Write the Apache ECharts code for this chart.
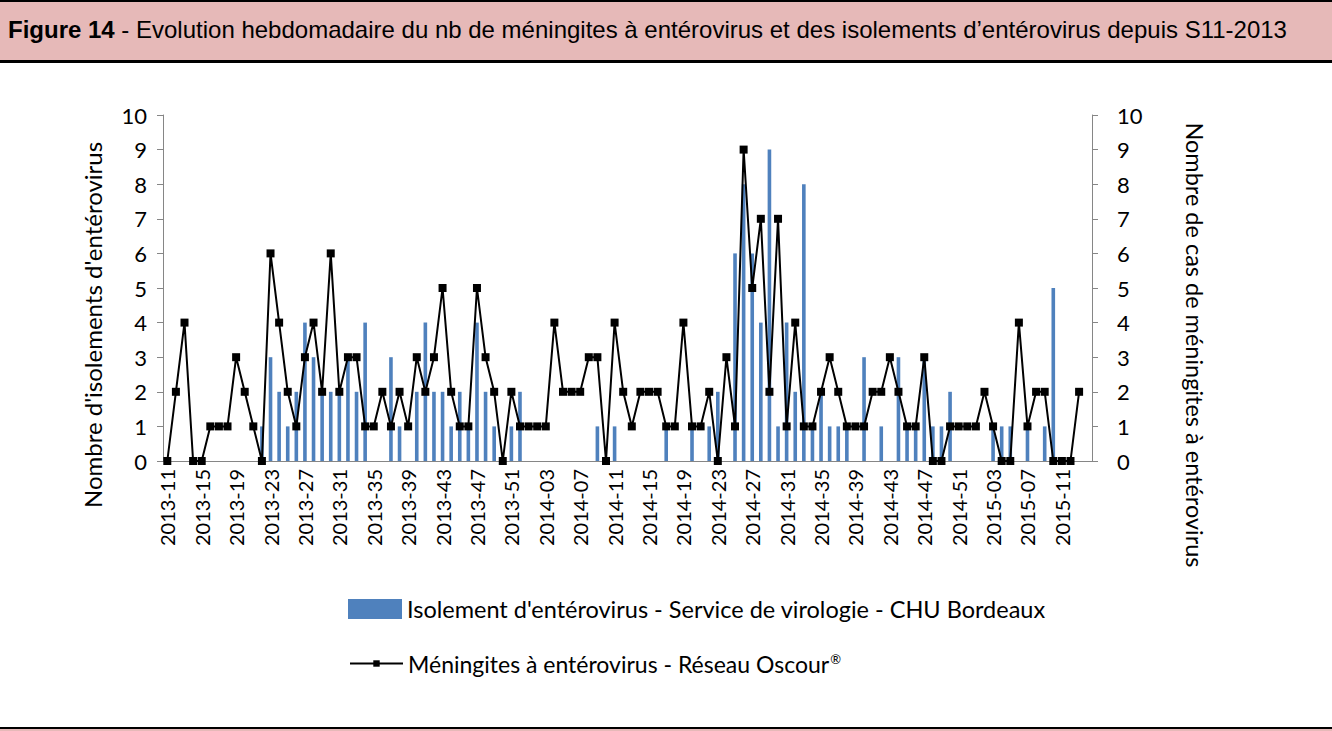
<!DOCTYPE html>
<html><head><meta charset="utf-8">
<script src="https://cdn.jsdelivr.net/npm/echarts@6/dist/echarts.min.js"></script>
<style>html,body{margin:0;padding:0;background:#fff}#chart{width:1332px;height:731px}</style>
</head><body><div id="chart"></div>
<script>
// Weekly categories (ISO year-week)
const weeks = [
 '2013-11','2013-12','2013-13','2013-14','2013-15','2013-16','2013-17','2013-18','2013-19','2013-20',
 '2013-21','2013-22','2013-23','2013-24','2013-25','2013-26','2013-27','2013-28','2013-29','2013-30',
 '2013-31','2013-32','2013-33','2013-34','2013-35','2013-36','2013-37','2013-38','2013-39','2013-40',
 '2013-41','2013-42','2013-43','2013-44','2013-45','2013-46','2013-47','2013-48','2013-49','2013-50',
 '2013-51','2013-52','2014-01','2014-02','2014-03','2014-04','2014-05','2014-06','2014-07','2014-08',
 '2014-09','2014-10','2014-11','2014-12','2014-13','2014-14','2014-15','2014-16','2014-17','2014-18',
 '2014-19','2014-20','2014-21','2014-22','2014-23','2014-24','2014-25','2014-26','2014-27','2014-28',
 '2014-29','2014-30','2014-31','2014-32','2014-33','2014-34','2014-35','2014-36','2014-37','2014-38',
 '2014-39','2014-40','2014-41','2014-42','2014-43','2014-44','2014-45','2014-46','2014-47','2014-48',
 '2014-49','2014-50','2014-51','2014-52','2015-01','2015-02','2015-03','2015-04','2015-05','2015-06',
 '2015-07','2015-08','2015-09','2015-10','2015-11','2015-12','2015-13','2015-14'
];
// Isolements d'entérovirus - CHU Bordeaux (left axis)
const isolements = [
 0,0,0,0,0,0,0,0,0,0,
 0,1,3,2,1,2,4,3,2,2,
 2,3,2,4,0,0,3,1,0,2,
 4,2,2,1,2,1,4,2,1,0,
 1,2,0,0,0,0,0,0,0,0,
 1,0,1,0,0,0,0,0,1,0,
 0,1,0,1,2,0,6,8,6,4,
 9,1,4,2,8,1,2,1,1,1,
 0,3,0,1,0,3,1,1,3,1,
 1,2,0,0,0,0,1,1,1,0,
 1,0,1,5,0,0,0,null
];
// Méningites à entérovirus - Réseau Oscour (right axis)
const meningites = [
 0,2,4,0,0,1,1,1,3,2,
 1,0,6,4,2,1,3,4,2,6,
 2,3,3,1,1,2,1,2,1,3,
 2,3,5,2,1,1,5,3,2,0,
 2,1,1,1,1,4,2,2,2,3,
 3,0,4,2,1,2,2,2,1,1,
 4,1,1,2,0,3,1,9,5,7,
 2,7,1,4,1,1,2,3,2,1,
 1,1,2,2,3,2,1,1,3,0,
 0,1,1,1,1,2,1,0,0,4,
 1,2,2,0,0,0,2,null
];
const seriesNames = [
 "Isolement d'entérovirus - Service de virologie - CHU Bordeaux",
 "Méningites à entérovirus - Réseau Oscour®"
];
const titleText = "{b|Figure 14} - Evolution hebdomadaire du nb de méningites à entérovirus et des isolements d’entérovirus depuis S11-2013";
const leftAxisName = "Nombre d'isolements d'entérovirus";
const rightAxisName = "Nombre de cas de méningites à entérovirus";

const FONT = 'Lato, "Open Sans", sans-serif';
const TFONT = '"Liberation Sans", Arial, sans-serif';
const AXIS = '#868686';
const chart = echarts.init(document.getElementById('chart'), null, {renderer: 'svg'});
chart.setOption({
  animation: false,
  backgroundColor: '#ffffff',
  title: {
    text: titleText, left: 8, top: 17, padding: 0,
    textStyle: {
      fontFamily: TFONT, fontSize: 24, fontWeight: 'normal', color: '#000',
      rich: { b: { fontFamily: TFONT, fontSize: 24, fontWeight: 'bold', color: '#000' } }
    }
  },
  graphic: [
    { type: 'rect', z: -10, shape: { x: 0, y: 0, width: 1332, height: 61 }, style: { fill: '#E6B9B8' } },
    { type: 'rect', z: -9, shape: { x: 0, y: 0, width: 1332, height: 2 }, style: { fill: '#000' } },
    { type: 'rect', z: -9, shape: { x: 0, y: 60, width: 1332, height: 3 }, style: { fill: '#000' } },
    { type: 'rect', z: -9, shape: { x: 0, y: 727, width: 1332, height: 2 }, style: { fill: '#000' } },
    { type: 'rect', z: -9, shape: { x: 0, y: 729, width: 1332, height: 2 }, style: { fill: '#E6B9B8' } },
    { type: 'text', x: 92, y: 325, rotation: Math.PI / 2,
      style: { text: leftAxisName, fontFamily: FONT, fontSize: 24, fill: '#000', align: 'center', verticalAlign: 'middle' } },
    { type: 'text', x: 1195, y: 345, rotation: -Math.PI / 2,
      style: { text: rightAxisName, fontFamily: FONT, fontSize: 23.5, fill: '#000', align: 'center', verticalAlign: 'middle' } }
  ],
  grid: { left: 163, right: 240, top: 115, bottom: 270, containLabel: false },
  legend: [
    { data: [seriesNames[0]], left: 348, top: 597, padding: 0, itemWidth: 54, itemHeight: 20, icon: 'rect',
      textStyle: { fontFamily: FONT, fontSize: 23.5, color: '#000' } },
    { data: [seriesNames[1]], left: 349, top: 652, padding: 0, itemWidth: 53, itemHeight: 8,
      formatter: function (name) { return name.replace('®', '{s|®}'); },
      textStyle: { fontFamily: FONT, fontSize: 23, color: '#000',
        rich: { s: { fontFamily: FONT, fontSize: 13, color: '#000', padding: [0, 0, 10, 1] } } } }
  ],
  xAxis: {
    type: 'category', data: weeks, boundaryGap: true,
    axisLine: { lineStyle: { color: AXIS, width: 1 } },
    axisTick: { interval: 0, length: 5, lineStyle: { color: AXIS } },
    axisLabel: { interval: 3, rotate: 90, margin: 8, fontFamily: FONT, fontSize: 20, color: '#000' }
  },
  yAxis: [
    { type: 'value', min: 0, max: 10, interval: 1, position: 'left',
      axisLine: { show: true, lineStyle: { color: AXIS } },
      axisTick: { show: true, length: 6, lineStyle: { color: AXIS } },
      splitLine: { show: false },
      axisLabel: { margin: 16, fontFamily: FONT, fontSize: 22, color: '#000' } },
    { type: 'value', min: 0, max: 10, interval: 1, position: 'right',
      axisLine: { show: true, lineStyle: { color: AXIS } },
      axisTick: { show: true, length: 6, lineStyle: { color: AXIS } },
      splitLine: { show: false },
      axisLabel: { margin: 25, fontFamily: FONT, fontSize: 22, color: '#000' } }
  ],
  series: [
    { name: seriesNames[0], type: 'bar', yAxisIndex: 0, data: isolements, barWidth: '42%',
      itemStyle: { color: '#4F81BD' } },
    { name: seriesNames[1], type: 'line', yAxisIndex: 1, data: meningites,
      symbol: 'rect', symbolSize: 8, showSymbol: true, showAllSymbol: true,
      lineStyle: { color: '#000', width: 2 },
      itemStyle: { color: '#000' } }
  ]
});
</script></body></html>
